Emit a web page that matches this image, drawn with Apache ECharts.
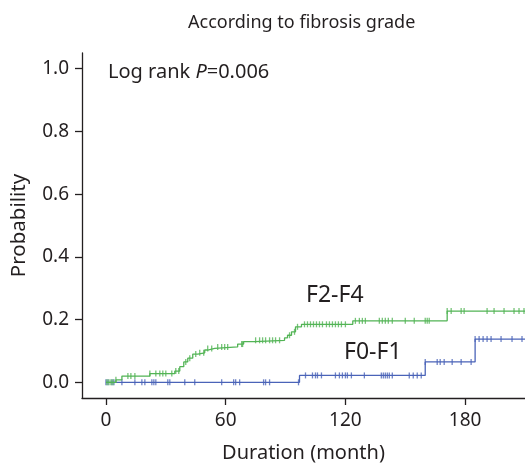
<!DOCTYPE html>
<html>
<head>
<meta charset="utf-8">
<script src="https://cdn.jsdelivr.net/npm/echarts@6/dist/echarts.min.js"></script>
<style>
html, body { margin: 0; padding: 0; background: #fff; }
#main { width: 525px; height: 470px; }
</style>
</head>
<body>
<div id="main"></div>
<script>
// step curves: [month, cumulative probability]
var greenSteps = [
    [0, 0.0], [5, 0.008], [8, 0.02], [22, 0.028], [34.5, 0.036], [37, 0.05],
    [39, 0.065], [41, 0.077], [43.5, 0.09], [46, 0.094], [49.5, 0.103],
    [51, 0.108], [54.5, 0.113], [66, 0.122], [69, 0.13], [74.5, 0.134],
    [89.5, 0.142], [91, 0.15], [93, 0.161], [95, 0.177], [98, 0.185],
    [123.7, 0.196], [171, 0.227], [210, 0.227]
];
var blueSteps = [
    [0, 0.0], [97, 0.022], [160, 0.065], [185, 0.138], [210, 0.138]
];
// censored times (months)
var greenCensor = [0.5, 1.5, 2.5, 3.5, 5, 11, 12.5, 14.5, 22, 25, 27, 28.5, 30, 33, 35,
    36.5, 40, 42, 45, 47, 49, 51, 53, 56, 58, 59.5, 61, 68, 68.5, 75, 77, 78.5, 80, 82,
    83.5, 85, 87, 92, 94.5, 96, 99.5, 101, 102.5, 104, 105.5, 107, 108.5, 110.5, 112,
    113.5, 115, 116.5, 118, 120, 125, 127, 128.5, 130, 137, 138.5, 140, 141.5, 143.5,
    150, 154.5, 160, 161, 162, 171, 173, 178, 179.5, 191, 194.5, 199.5, 204.5, 207, 209.5];
var blueCensor = [0, 1, 3, 4, 8, 14.5, 18, 19.5, 23, 24, 25, 31, 32, 39.5, 44.5, 58, 64,
    65, 67, 79, 80, 82, 96.5, 100, 103.5, 105, 106, 108, 115, 117, 118.5, 120, 121, 123,
    129.5, 138, 139, 140, 141, 142, 143.5, 152, 154, 156, 158, 160, 166, 167.5, 169.5,
    173.5, 178, 183, 185, 187, 189, 191, 193, 198, 203.5, 208.5];
var xTicks = [0, 60, 120, 180];
var yTicks = [0, 0.2, 0.4, 0.6, 0.8, 1.0];

var GREEN = '#52b455';
var BLUE = '#4a63b8';
var INK = '#231f20';
var FONT = 'Noto Sans';

function levelAt(steps, t) {
    var v = steps[0][1];
    for (var i = 0; i < steps.length; i++) {
        if (steps[i][0] <= t) v = steps[i][1];
    }
    return v;
}
function censorPoints(steps, times) {
    return times.map(function (t) { return [t, levelAt(steps, t)]; });
}

var myChart = echarts.init(document.getElementById('main'));
var option = {
    backgroundColor: '#FFFFFF',
    animation: false,
    title: {
        text: 'According to fibrosis grade',
        left: 183,
        top: 9,
        textStyle: {fontFamily: FONT, fontSize: 18, fontWeight: 'normal', color: INK}
    },
    grid: {left: 82, right: -1, top: 53, bottom: 72},
    xAxis: {
        type: 'value',
        min: -12,
        max: 210,
        name: 'Duration (month)',
        nameLocation: 'middle',
        nameGap: 45,
        nameTextStyle: {fontFamily: FONT, fontSize: 20, color: INK},
        splitLine: {show: false},
        axisLine: {onZero: false, lineStyle: {color: INK, width: 1.3}},
        axisTick: {customValues: xTicks, length: 7, lineStyle: {color: INK, width: 1.3}},
        axisLabel: {customValues: xTicks, margin: 13, fontFamily: FONT, fontSize: 19, color: INK}
    },
    yAxis: {
        type: 'value',
        min: -0.05,
        max: 1.05,
        name: 'Probability',
        nameLocation: 'middle',
        nameGap: 52,
        nameTextStyle: {fontFamily: FONT, fontSize: 20.5, color: INK},
        splitLine: {show: false},
        axisLine: {show: true, onZero: false, lineStyle: {color: INK, width: 1.3}},
        axisTick: {show: true, customValues: yTicks, length: 7, lineStyle: {color: INK, width: 1.3}},
        axisLabel: {
            customValues: yTicks, margin: 13, fontFamily: FONT, fontSize: 19, color: INK,
            formatter: function (v) { return v.toFixed(1); }
        }
    },
    graphic: [
        {type: 'text', left: 108, top: 62, style: {
            text: '{a|Log rank }{b|P}{a|=0.006}',
            rich: {
                a: {fontFamily: FONT, fontSize: 20, fill: INK},
                b: {fontFamily: FONT, fontSize: 20, fontStyle: 'italic', fill: INK}
            }
        }},
        {type: 'text', left: 306, top: 284, style: {text: 'F2-F4', fontFamily: FONT, fontSize: 23, fill: INK}},
        {type: 'text', left: 344, top: 341, style: {text: 'F0-F1', fontFamily: FONT, fontSize: 23, fill: INK}}
    ],
    series: [
        {
            type: 'line', step: 'end', data: blueSteps, showSymbol: false,
            lineStyle: {color: BLUE, width: 1.3}, z: 2
        },
        {
            type: 'line', step: 'end', data: greenSteps, showSymbol: false,
            lineStyle: {color: GREEN, width: 1.3}, z: 3
        },
        {
            type: 'scatter', data: censorPoints(blueSteps, blueCensor),
            symbol: 'rect', symbolSize: [1.3, 6], itemStyle: {color: BLUE}, z: 2
        },
        {
            type: 'scatter', data: censorPoints(greenSteps, greenCensor),
            symbol: 'rect', symbolSize: [1.3, 6], itemStyle: {color: GREEN}, z: 3
        }
    ]
};
myChart.setOption(option);
</script>
</body>
</html>
